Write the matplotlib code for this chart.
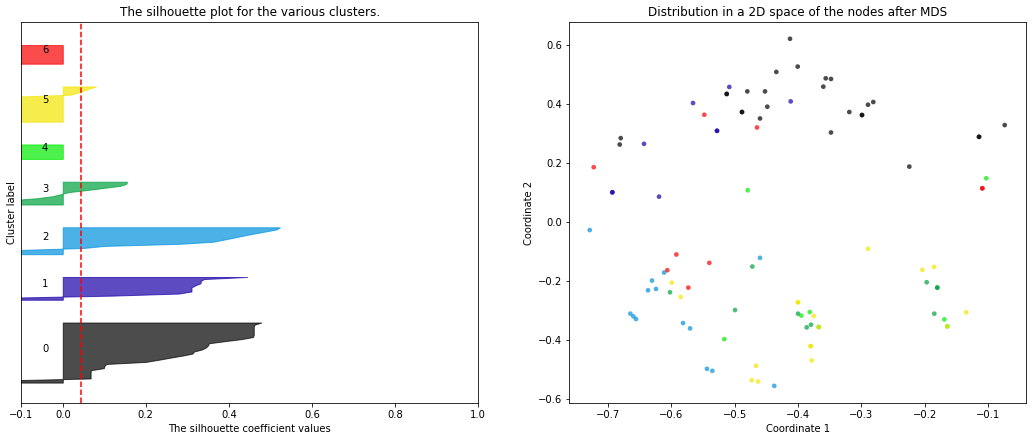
import numpy as np
import matplotlib
matplotlib.use("Agg")
import matplotlib.pyplot as plt
import matplotlib.cm as cm

n_clusters = 7

# sorted silhouette values per cluster (values below -0.1 fall outside the axis)
sil_0 = [-0.16, -0.15, 0.067, 0.067, 0.067, 0.067, 0.068, 0.099, 0.10, 0.105,
         0.20, 0.23, 0.258, 0.287, 0.312, 0.316, 0.335, 0.345, 0.35, 0.352,
         0.39, 0.43, 0.458, 0.46, 0.46, 0.46, 0.46, 0.46, 0.462, 0.478]
sil_1 = [-0.2, -0.13, 0.12, 0.28, 0.31, 0.31, 0.31, 0.32, 0.332, 0.332, 0.34, 0.444]
sil_2 = [-0.16, -0.14, -0.11, 0.05, 0.10, 0.28, 0.362, 0.387, 0.412, 0.436,
         0.462, 0.489, 0.515, 0.523]
sil_3 = [-0.15, -0.14, -0.13, -0.064, -0.025, -0.005, 0.015, 0.059, 0.098,
         0.138, 0.153, 0.155]
sil_4 = [-0.2, -0.2, -0.19, -0.19, -0.18, -0.18, -0.17, -0.16]
sil_5 = [-0.2, -0.2, -0.19, -0.19, -0.18, -0.18, -0.17, -0.17, -0.16, -0.16,
         -0.15, -0.14, -0.13, 0.018, 0.036, 0.05, 0.064, 0.08]
sil_6 = [-0.2, -0.2, -0.19, -0.19, -0.18, -0.18, -0.17, -0.17, -0.16, -0.15]
silhouette_avg = 0.043

# node coordinates after MDS and their cluster label
mds_x = [-0.4126, -0.4005, -0.4342, -0.3563, -0.3480, -0.3601, -0.4799, -0.452,
         -0.5124, -0.5124, -0.4484, -0.4883, -0.4883, -0.4599, -0.3191, -0.2896,
         -0.2813, -0.2991, -0.2991, -0.3480, -0.6795, -0.6811, -0.2245, -0.1146,
         -0.1146, -0.0741,
         -0.5083, -0.5655, -0.4115, -0.6428, -0.6191, -0.5277, -0.5277, -0.6927, -0.6927,
         -0.7284, -0.4599, -0.6112, -0.6302, -0.6365, -0.6239, -0.6643, -0.6596,
         -0.6554, -0.5813, -0.5702, -0.5435, -0.5351, -0.4374,
         -0.472, -0.6018, -0.4993, -0.4, -0.3863, -0.3795, -0.1971, -0.1804, -0.1804, -0.1851,
         -0.4793, -0.1031, -0.5162, -0.3948, -0.3815, -0.1693, -0.3673, -0.1646,
         -0.5991, -0.5849, -0.2896, -0.204, -0.1856, -0.1347, -0.4, -0.4, -0.3752,
         -0.38, -0.38, -0.3784, -0.4662, -0.473, -0.463, -0.3673, -0.1646,
         -0.7221, -0.5477, -0.4646, -0.1094, -0.1094, -0.5918, -0.606, -0.5398, -0.5729]
mds_y = [0.622, 0.5276, 0.5095, 0.4878, 0.4857, 0.4595, 0.4435, 0.4435,
         0.4347, 0.4347, 0.3914, 0.3734, 0.3734, 0.3516, 0.3734, 0.3982,
         0.4074, 0.3632, 0.3632, 0.304, 0.2849, 0.2631, 0.1882, 0.2893,
         0.2893, 0.3291,
         0.4585, 0.404, 0.4095, 0.2655, 0.0862, 0.3097, 0.3097, 0.1010, 0.1010,
         -0.0272, -0.1214, -0.1713, -0.1986, -0.2315, -0.227, -0.3108, -0.32,
         -0.329, -0.3427, -0.3608, -0.498, -0.5048, -0.5559,
         -0.151, -0.2383, -0.2985, -0.3108, -0.3574, -0.3483, -0.2042, -0.2224, -0.2224, -0.3108,
         0.1078, 0.1487, -0.3972, -0.3176, -0.3053, -0.3302, -0.3562, -0.354,
         -0.2054, -0.2541, -0.0908, -0.1622, -0.152, -0.3063, -0.2723, -0.2723, -0.3188,
         -0.421, -0.421, -0.4697, -0.4878, -0.5367, -0.5412, -0.3562, -0.354,
         0.1861, 0.3642, 0.321, 0.1146, 0.1146, -0.11, -0.1634, -0.1384, -0.2224]
mds_label = [0] * 26 + [1] * 9 + [2] * 14 + [3] * 10 + [4] * 8 + [5] * 17 + [6] * 9

sil_values = [sil_0, sil_1, sil_2, sil_3, sil_4, sil_5, sil_6]
n_nodes = sum(len(v) for v in sil_values)

fig = plt.figure(figsize=(1032 / 72, 441 / 72), dpi=72)
ax1 = fig.add_axes([0.0206, 0.0855, 0.4425, 0.864])
ax2 = fig.add_axes([0.5517, 0.0855, 0.4425, 0.864])

# silhouette plot
ax1.set_xlim([-0.1, 1])
ax1.set_ylim([0, n_nodes + (n_clusters + 1) * 10])
y_lower = 10
for i in range(n_clusters):
    values = np.sort(np.array(sil_values[i]))
    size_cluster_i = values.shape[0]
    y_upper = y_lower + size_cluster_i
    color = cm.nipy_spectral(float(i) / n_clusters)
    ax1.fill_betweenx(np.arange(y_lower, y_upper), 0, values,
                      facecolor=color, edgecolor=color, alpha=0.7)
    ax1.text(-0.05, y_lower + 0.5 * size_cluster_i, str(i))
    y_lower = y_upper + 10

ax1.set_title("The silhouette plot for the various clusters.")
ax1.set_xlabel("The silhouette coefficient values")
ax1.set_ylabel("Cluster label")
ax1.axvline(x=silhouette_avg, color="red", linestyle="--")
ax1.set_yticks([])
ax1.set_xticks([-0.1, 0, 0.2, 0.4, 0.6, 0.8, 1])

# MDS scatter
colors = cm.nipy_spectral(np.array(mds_label, dtype=float) / n_clusters)
ax2.scatter(mds_x, mds_y, marker='o', s=22, lw=0, alpha=0.7, c=colors)
ax2.set_xlim(-0.7605, -0.0405)
ax2.set_ylim(-0.615, 0.678)
ax2.set_title("Distribution in a 2D space of the nodes after MDS")
ax2.set_xlabel("Coordinate 1")
ax2.set_ylabel("Coordinate 2")

fig.savefig("out.png", dpi=72)
